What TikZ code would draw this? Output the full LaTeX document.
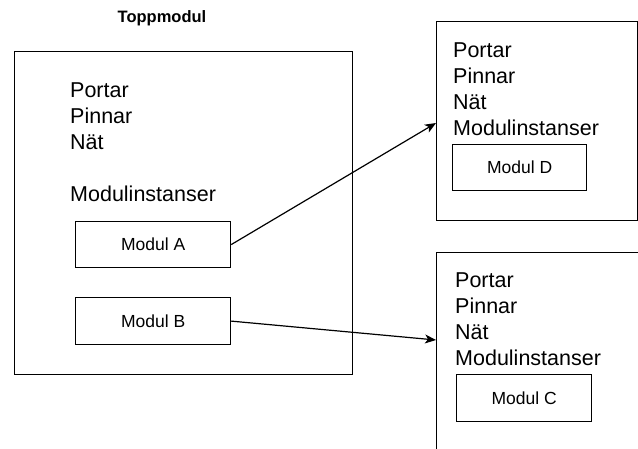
\documentclass[tikz,border=0pt]{standalone}
\usepackage{fontspec}
\setmainfont{Liberation Sans}
\usetikzlibrary{arrows.meta}
\begin{document}
\begin{tikzpicture}[x=1pt,y=-1pt,
  frame/.style={draw, line width=1.2pt, anchor=north west, inner sep=0pt},
  modbox/.style={draw, line width=1.2pt, anchor=north west, inner sep=0pt,
    font=\fontsize{17.5}{21}\selectfont},
  % multi-line lists are placed by the baseline of their last line
  listing/.style={anchor=base west, align=left, inner sep=0pt,
    font=\fontsize{21.5}{26}\selectfont},
  title/.style={font=\bfseries\fontsize{16.5}{20}\selectfont, inner sep=0pt},
  link/.style={line width=1.2pt, -{Stealth[length=11pt,width=9pt,inset=3pt]}}]
\useasboundingbox (0,0) rectangle (638,448);
\clip (0,0) rectangle (638,448);

% top-level module
\node[title] (ttl) at (162,18) {Toppmodul};
\node[frame, minimum width=338pt, minimum height=323pt] (top) at (14,51) {};
\node[listing] (toplist) at (70,201) {Portar\\Pinnar\\Nät\\[26pt]Modulinstanser};
\node[modbox, minimum width=155pt, minimum height=46pt] (ma) at (75,221) {Modul A};
\node[modbox, minimum width=155pt, minimum height=47pt] (mb) at (75,297) {Modul B};

% module instantiated by A
\node[frame, minimum width=201pt, minimum height=199pt] (cd) at (436,21) {};
\node[listing] (dlist) at (453,135) {Portar\\Pinnar\\Nät\\Modulinstanser};
\node[modbox, minimum width=134pt, minimum height=46pt] (md) at (452,144) {Modul D};

% module instantiated by B (runs past the page edge)
\node[frame, minimum width=230pt, minimum height=230pt] (cc) at (436,252) {};
\node[listing] (clist) at (455,365) {Portar\\Pinnar\\Nät\\Modulinstanser};
\node[modbox, minimum width=135pt, minimum height=47pt] (mc) at (456,374) {Modul C};

% connectors
\coordinate (dIn) at (436,123);
\coordinate (cIn) at (436,340);
\draw[link] (ma.east) -- (dIn);
\draw[link] (mb.east) -- (cIn);
\end{tikzpicture}
\end{document}
